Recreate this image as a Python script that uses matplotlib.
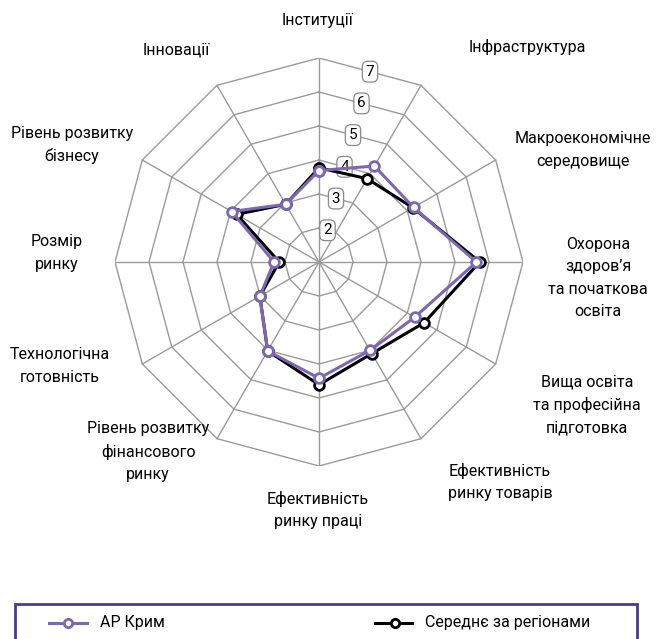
"""
    radar chart: competitiveness pillars, AR Crimea vs regional average
"""

import numpy as np
import matplotlib
matplotlib.use("Agg")
import matplotlib.pyplot as plt
from matplotlib.patches import Rectangle

plt.rcParams['font.family'] = ['Roboto', 'DejaVu Sans']
plt.rcParams['font.stretch'] = 'condensed'

##########  data  ##########
categories = ["Інституції", "Інфраструктура", "Макроекономічне\nсередовище",
              "Охорона\nздоров’я\nта початкова\nосвіта",
              "Вища освіта\nта професійна\nпідготовка",
              "Ефективність\nринку товарів", "Ефективність\nринку праці",
              "Рівень розвитку\nфінансового\nринку", "Технологічна\nготовність",
              "Розмір\nринку", "Рівень розвитку\nбізнесу", "Інновації"]
crimea  = [3.69, 4.26, 4.21, 5.63, 4.25, 4.00, 4.42, 4.02, 3.01, 2.32, 3.97, 2.96]
average = [3.77, 3.83, 4.19, 5.73, 4.57, 4.11, 4.61, 4.02, 3.01, 2.17, 3.80, 2.96]
ticks = [2, 3, 4, 5, 6, 7]
rmin, rmax = 1, 7

purple = "#7B68B0"
frame = "#4B3A95"
grid = "#9A9A9A"

W, H = 662, 639
fig = plt.figure(figsize=(W/100, H/100), dpi=100)

# axes centered on (319, 262) px, radius 204 px
cx, cy, R = 319, 262, 204
ax = fig.add_axes([(cx - R)/W, 1 - (cy + R)/H, 2*R/W, 2*R/H])
ax.set_xlim(-(rmax - rmin), rmax - rmin)
ax.set_ylim(-(rmax - rmin), rmax - rmin)
ax.set_aspect("equal")
ax.axis("off")

n = len(categories)
theta = np.arange(n) * 2*np.pi/n   # clockwise from top

def xy(vals):
    r = np.asarray(vals, dtype=float) - rmin
    return r*np.sin(theta), r*np.cos(theta)

# grid: rings and spokes
for t in ticks:
    x, y = xy([t]*n)
    ax.plot(np.append(x, x[0]), np.append(y, y[0]), color=grid, lw=1, zorder=1)
xo, yo = xy([rmax]*n)
for i in range(n):
    ax.plot([0, xo[i]], [0, yo[i]], color=grid, lw=1, zorder=1)

# tick labels along the first edge
a = np.pi/n
for t in ticks:
    r = (t - rmin)*np.cos(a)
    ax.text(r*np.sin(a), r*np.cos(a), str(t), ha="center", va="center",
            fontsize=11, zorder=2,
            bbox=dict(boxstyle="round,pad=0.22,rounding_size=0.35", fc="white",
                      ec="#8A8A8A", lw=0.9))

# series
x, y = xy(average)
ax.plot(np.append(x, x[0]), np.append(y, y[0]), color="black", lw=2.2,
        marker="o", ms=7, mfc="white", mec="black", mew=2, zorder=3)
x, y = xy(crimea)
ax.plot(np.append(x, x[0]), np.append(y, y[0]), color=purple, lw=2.2,
        marker="o", ms=7, mfc="white", mec=purple, mew=2, zorder=4)

# category labels (pixel centers)
label_pos = [(318, 20), (527, 47), (583, 150), (598, 278), (587, 405),
             (500, 482), (318, 510), (148, 452), (60, 366), (57, 253),
             (72, 145), (176, 50)]
for lab, (px, py) in zip(categories, label_pos):
    fig.text(px/W, 1 - py/H, lab, ha="center", va="center", fontsize=11.5,
             linespacing=1.6)

# legend box
fig.patches.append(Rectangle((15/W, -0.05), (637 - 15)/W, 0.05 + 1 - 604/H,
                             transform=fig.transFigure, fill=False, ec=frame,
                             lw=2))
ly = 1 - 623/H
fig.lines.append(plt.Line2D([49/W, 87/W], [ly, ly], transform=fig.transFigure,
                            color=purple, lw=2.2))
fig.lines.append(plt.Line2D([68/W], [ly], transform=fig.transFigure,
                            color=purple, marker="o", ms=6, mfc="white", mew=2))
fig.text(100/W, ly, "АР Крим", ha="left", va="center", fontsize=11.5)
fig.lines.append(plt.Line2D([375/W, 412/W], [ly, ly], transform=fig.transFigure,
                            color="black", lw=2.2))
fig.lines.append(plt.Line2D([395/W], [ly], transform=fig.transFigure,
                            color="black", marker="o", ms=6, mfc="white", mew=2))
fig.text(425/W, ly, "Середнє за регіонами", ha="left", va="center",
         fontsize=11.5)

fig.savefig("out.png", dpi=100)
